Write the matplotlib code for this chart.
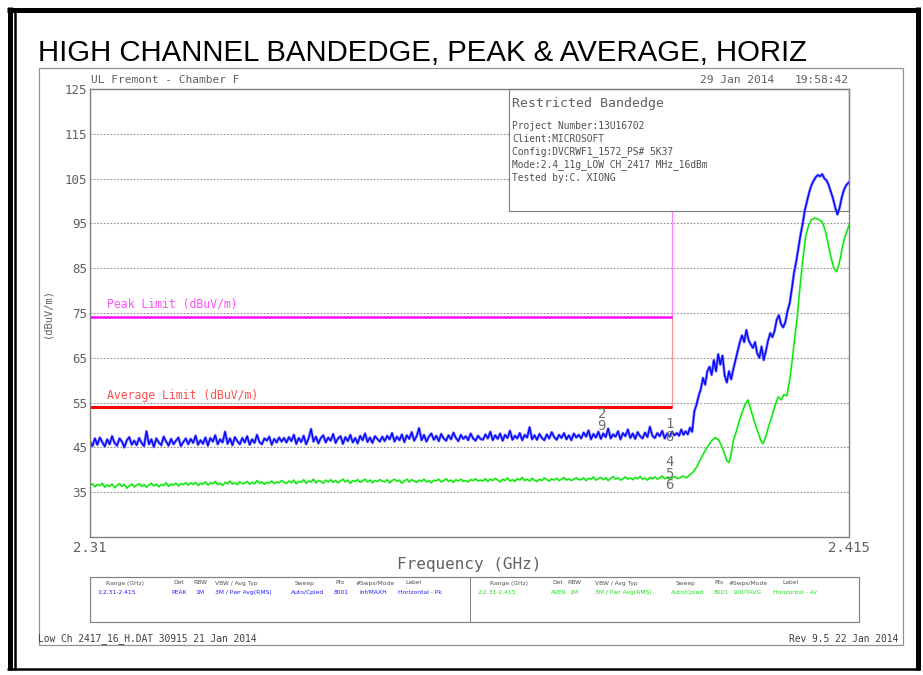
import numpy as np
import matplotlib
matplotlib.use("Agg")
import matplotlib.pyplot as plt
from matplotlib.lines import Line2D
from matplotlib.patches import Rectangle

# ---------------- data ----------------
f_start, f_stop = 2.31, 2.415
band_edge = 2.3905
peak_limit = 74
avg_limit = 54
yticks = [125, 115, 105, 95, 85, 75, 65, 55, 45, 35]

# peak trace (blue) flat part, evenly spaced from 2.31 to 2.3912 GHz
blue_flat = [
    46.3, 45.3, 47.0, 45.6, 47.2, 46.2, 45.2, 46.8, 45.7, 47.5, 46.0, 45.4, 47.0, 46.3, 45.0, 46.6, 47.3, 45.6, 46.5, 45.5,
    47.1, 46.0, 45.3, 48.6, 45.7, 46.8, 45.1, 47.0, 46.1, 45.5, 47.4, 46.3, 45.4, 46.9, 45.7, 46.5, 47.2, 45.3, 46.2, 47.0,
    45.7, 46.9, 46.0, 47.6, 45.6, 46.6, 45.8, 47.2, 45.4, 47.1, 46.3, 47.7, 45.7, 46.8, 46.1, 48.5, 45.8, 47.0, 45.5, 47.3,
    46.4, 45.7, 47.1, 46.1, 47.5, 45.6, 46.8, 46.0, 47.8, 46.2, 45.7, 47.0, 46.5, 47.4, 45.6, 46.9, 46.1, 47.2, 46.3, 47.1,
    46.1, 47.3, 46.4, 47.8, 45.8, 47.1, 46.2, 47.6, 45.7, 47.0, 49.1, 46.3, 47.4, 45.9, 47.1, 47.7, 46.1, 47.2, 46.5, 48.0,
    46.0, 47.0, 47.5, 45.8, 47.3, 46.4, 47.8, 46.1, 47.1, 45.9, 47.6, 46.6, 48.1, 46.2, 47.2, 46.0, 47.5, 46.9, 46.3, 47.4,
    46.4, 47.6, 46.8, 48.2, 46.3, 47.4, 46.6, 47.9, 46.2, 47.7, 46.9, 48.4, 46.5, 47.5, 49.3, 46.6, 47.8, 46.3, 47.4, 48.1,
    46.7, 47.6, 46.4, 48.0, 47.0, 46.5, 47.7, 46.8, 48.3, 47.1, 46.4, 47.8, 46.9, 47.5, 46.6, 48.1, 47.0, 46.5, 47.6, 46.9,
    46.7, 47.9, 47.0, 48.5, 46.6, 47.7, 46.9, 48.1, 46.5, 47.8, 47.1, 48.7, 46.7, 47.6, 47.0, 48.2, 46.6, 47.8, 47.2, 49.5,
    46.8, 47.7, 46.7, 48.0, 47.1, 46.6, 47.9, 47.0, 48.4, 47.3, 46.7, 47.8, 47.1, 48.2, 46.8, 47.7, 46.6, 48.1, 47.2, 47.8,
    47.0, 48.3, 47.4, 48.8, 46.8, 48.0, 47.2, 48.5, 46.9, 48.1, 47.3, 49.2, 47.0, 47.9, 47.4, 48.6, 46.8, 48.2, 47.5, 49.0,
    47.1, 48.1, 46.9, 48.4, 47.5, 47.0, 48.3, 47.3, 49.6, 47.6, 47.1, 48.2, 47.5, 48.7, 47.0, 48.1, 47.4, 48.5, 47.7, 48.2,
]
blue_rise_f = [
    2.3915, 2.3918, 2.3921, 2.3924, 2.3927, 2.3930, 2.3933, 2.3936, 2.3939, 2.3942,
    2.3945, 2.3948, 2.3951, 2.3954, 2.3957, 2.3960, 2.3963, 2.3966, 2.3969, 2.3972,
    2.3975, 2.3978, 2.3981, 2.3984, 2.3987, 2.3990, 2.3993, 2.3996, 2.3999, 2.4002,
    2.4005, 2.4008, 2.4011, 2.4014, 2.4017, 2.4020, 2.4023, 2.4026, 2.4029, 2.4032,
    2.4035, 2.4038, 2.4041, 2.4044, 2.4047, 2.4050, 2.4053, 2.4056, 2.4059, 2.4062,
    2.4065, 2.4068, 2.4071, 2.4074, 2.4077, 2.4080, 2.4083, 2.4086, 2.4089, 2.4092,
    2.4095, 2.4098, 2.4101, 2.4104, 2.4107, 2.4110, 2.4113, 2.4116, 2.4119, 2.4122,
    2.4125, 2.4128, 2.4131, 2.4134, 2.4137, 2.4140, 2.4143, 2.4146, 2.4150,
]
blue_rise_v = [
    47.6, 49.0, 47.8, 48.6, 47.9, 49.4, 48.5, 53.0, 54.5, 56.5,
    58.0, 60.5, 59.0, 62.0, 63.0, 61.2, 64.5, 62.0, 65.8, 63.5,
    65.5, 61.0, 59.5, 62.0, 60.2, 62.5, 64.5, 66.5, 68.5, 70.0,
    68.5, 71.2, 69.0, 68.0, 67.2, 68.5, 66.0, 65.0, 67.5, 64.5,
    66.5, 68.8, 70.5, 69.6, 71.0, 73.5, 74.5, 72.5, 71.8, 73.0,
    75.5, 77.2, 80.5, 84.0, 86.5, 89.5, 92.5, 95.0, 98.0, 100.0,
    102.0, 103.5, 104.5, 105.3, 105.8, 105.5, 106.0, 105.0, 104.6, 103.5,
    102.0, 100.5, 98.5, 97.0, 98.5, 100.8, 102.5, 103.5, 104.2,
]

# average trace (green) flat part, evenly spaced from 2.31 to 2.3912 GHz
green_flat = [
    36.4, 36.9, 36.2, 36.7, 36.5, 37.0, 36.1, 36.6, 36.3, 36.8, 36.0, 36.5, 36.9, 36.3, 36.7, 35.9, 36.4, 36.8, 36.2, 36.6,
    36.9, 36.3, 36.7, 36.1, 36.6, 37.0, 36.4, 36.8, 36.2, 36.7, 36.5, 37.1, 36.3, 36.8, 36.6, 37.0, 36.4, 36.9, 36.7, 37.1,
    36.6, 37.1, 36.7, 37.2, 36.5, 37.0, 36.8, 37.3, 36.6, 37.1, 36.9, 37.4, 36.7, 37.0, 36.5, 37.2, 36.9, 37.5, 36.8, 37.1,
    36.7, 37.3, 36.9, 37.0, 37.4, 36.8, 37.2, 36.9, 37.6, 37.0, 37.3, 36.8, 37.2, 37.0, 37.5, 36.9, 37.3, 37.1, 37.6, 37.2,
    37.0, 37.5, 37.1, 37.7, 36.9, 37.4, 37.2, 37.8, 37.0, 37.5, 37.3, 37.9, 37.1, 37.6, 37.4, 37.0, 37.7, 37.3, 37.8, 37.2,
    37.6, 37.1, 37.5, 37.9, 37.3, 37.7, 37.0, 37.6, 37.4, 37.8, 37.2, 37.5, 37.9, 37.3, 37.7, 37.1, 37.6, 37.4, 37.8, 37.5,
    37.3, 37.8, 37.1, 37.6, 37.9, 37.4, 37.7, 37.0, 37.5, 37.9, 37.3, 37.8, 37.5, 37.2, 37.7, 37.4, 37.9, 37.3, 37.6, 37.1,
    37.7, 37.5, 37.9, 37.3, 37.6, 38.0, 37.4, 37.7, 37.2, 37.8, 37.5, 37.9, 37.4, 37.6, 37.3, 37.8, 37.6, 38.0, 37.5, 37.7,
    37.5, 38.0, 37.4, 37.9, 37.6, 38.1, 37.7, 37.3, 37.9, 37.6, 38.2, 37.5, 37.8, 37.4, 38.0, 37.7, 38.3, 37.6, 37.9, 37.5,
    38.1, 37.7, 37.4, 37.9, 37.6, 38.2, 37.8, 37.5, 38.0, 37.7, 38.1, 37.6, 37.9, 38.3, 37.7, 38.0, 37.6, 37.9, 38.2, 37.8,
    37.8, 38.2, 37.6, 38.1, 37.9, 38.4, 37.7, 38.0, 38.3, 37.8, 38.2, 37.6, 38.1, 38.5, 37.9, 38.2, 37.7, 38.0, 38.4, 37.9,
    38.2, 37.8, 38.3, 38.0, 38.5, 37.9, 38.1, 37.7, 38.3, 38.0, 38.4, 37.9, 38.2, 38.6, 38.0, 38.3, 37.8, 38.2, 38.5, 38.1,
]
green_rise_f = [
    2.3915, 2.3920, 2.3925, 2.3930, 2.3935, 2.3940, 2.3945, 2.3950, 2.3955, 2.3960,
    2.3965, 2.3970, 2.3974, 2.3978, 2.3981, 2.3984, 2.3987, 2.3990, 2.3994, 2.3998,
    2.4002, 2.4006, 2.4010, 2.4013, 2.4017, 2.4021, 2.4025, 2.4028, 2.4031, 2.4035,
    2.4039, 2.4043, 2.4047, 2.4052, 2.4056, 2.4060, 2.4064, 2.4068, 2.4072, 2.4075,
    2.4079, 2.4082, 2.4086, 2.4090, 2.4094, 2.4098, 2.4103, 2.4108, 2.4113, 2.4117,
    2.4121, 2.4125, 2.4129, 2.4133, 2.4137, 2.4142, 2.4146, 2.4150,
]
green_rise_v = [
    38.1, 38.6, 38.2, 38.9, 39.6, 40.8, 42.5, 44.0, 45.3, 46.5,
    47.2, 46.6, 45.2, 43.5, 42.0, 41.6, 43.5, 46.5, 48.5, 50.8,
    52.7, 54.5, 55.6, 54.0, 51.8, 49.8, 48.0, 46.5, 45.8, 47.5,
    49.8, 51.8, 54.0, 56.3, 55.6, 56.8, 56.5, 60.0, 65.2, 69.5,
    75.0, 80.5, 86.8, 92.0, 94.5, 95.8, 96.2, 95.9, 95.3, 93.5,
    90.6, 87.5, 85.0, 84.2, 86.5, 90.6, 92.8, 94.6,
]

marker_labels = ["2", "9", "1", "8", "4", "5", "6"]
marker_f = [2.3808, 2.3808, 2.3902, 2.3902, 2.3902, 2.3902, 2.3902]
marker_v = [52.5, 49.8, 50.2, 47.4, 41.8, 39.1, 36.5]

info_title = "Restricted Bandedge"
info_lines = ["Project Number:13U16702", "Client:MICROSOFT",
              "Config:DVCRWF1_1572_PS# 5K37", "Mode:2.4_11g_LOW CH_2417 MHz_16dBm",
              "Tested by:C. XIONG"]

table_headers = ["Range (GHz)", "Det", "RBW", "VBW / Avg Typ", "Sweep", "Pts", "#Swps/Mode", "Label"]
table_row1 = ["1:2.31-2.415", "PEAK", "1M", "3M / Pwr Avg(RMS)", "Auto/Cpled", "8001", "Inf/MAXH", "Horizontal - Pk"]
table_row2 = ["2:2.31-2.415", "AVER", "1M", "3M / Pwr Avg(RMS)", "Auto/Cpled", "8001", "100/TAVG", "Horizontal - Av"]

# ---------------- figure ----------------
W, H = 923, 675
fig = plt.figure(figsize=(W / 100, H / 100), dpi=100)
fig.patch.set_facecolor("white")

def fx(x):
    return x / W

def fy(y):
    return 1 - y / H

def pt(px):
    return px * 72 / 100

MONO = "DejaVu Sans Mono"
GREY = "#606060"

def fline(x0, y0, x1, y1, lw_px, color="black"):
    fig.add_artist(Line2D([fx(x0), fx(x1)], [fy(y0), fy(y1)], lw=pt(lw_px), color=color,
                          solid_capstyle="butt"))

fline(7, 9.5, 920, 9.5, 5)
fline(9.5, 7, 9.5, 670, 5)
fline(15.5, 12, 15.5, 670, 2.5)
fline(917.5, 7, 917.5, 670, 5)
fline(7, 668.5, 920, 668.5, 2.5)

fig.add_artist(Rectangle((fx(39), fy(645)), fx(903) - fx(39), fy(68) - fy(645),
                         fill=False, ec="#909090", lw=pt(1.2)))

fig.text(fx(38), fy(61), "HIGH CHANNEL BANDEDGE, PEAK & AVERAGE, HORIZ",
         family="Liberation Sans", fontsize=21.2, color="black", va="baseline", ha="left")

# axes
ax = fig.add_axes([fx(90), fy(537), fx(849) - fx(90), fy(89) - fy(537)])
ax.set_xlim(f_start, f_stop)
ax.set_ylim(25, 125)
for s in ax.spines.values():
    s.set_color("#808080")
    s.set_linewidth(1.0)
    s.set_zorder(12)

for yv in yticks[1:]:
    ax.axhline(yv, color="#909090", lw=0.8, ls=(0, (1.5, 1.5)), zorder=1)

ax.set_yticks(yticks)
ax.set_yticklabels([str(v) for v in yticks], family=MONO, fontsize=9, color=GREY)
ax.set_xticks([f_start, f_stop])
ax.set_xticklabels(["2.31", "2.415"], family=MONO, fontsize=10, color=GREY)
ax.tick_params(length=0, pad=3)
ax.tick_params(axis="y", pad=2)
ax.set_xlabel("Frequency (GHz)", family=MONO, fontsize=11.5, color=GREY, labelpad=1)
ax.set_ylabel("(dBuV/m)", family=MONO, fontsize=7.5, color=GREY, labelpad=9)

# info box (beneath the traces, above the grid)
ax.add_patch(Rectangle((fx(509), fy(211)), fx(849) - fx(509), fy(89) - fy(211),
                       transform=fig.transFigure, fc="white", ec="#808080", lw=pt(1.2),
                       zorder=2, clip_on=False))
ax.text(fx(512), fy(103), info_title, transform=fig.transFigure, family=MONO, fontsize=9.5,
        color=GREY, va="center", zorder=2.5)
for i, line in enumerate(info_lines):
    ax.text(fx(512), fy(126 + 13 * i), line, transform=fig.transFigure, family=MONO,
            fontsize=6.9, color="#505050", va="center", zorder=2.5)

# limit lines
ax.plot([band_edge, band_edge], [peak_limit, 125], color="#ff80ff", lw=pt(1.3), zorder=1.5)
ax.plot([band_edge, band_edge], [avg_limit, peak_limit], color="#ff9090", lw=pt(1.3), zorder=1.5)
ax.plot([f_start, band_edge], [peak_limit, peak_limit], color="#ff00ff", lw=pt(2.5), zorder=5,
        solid_capstyle="butt")
ax.plot([f_start, band_edge], [avg_limit, avg_limit], color="#ff0000", lw=pt(3), zorder=5,
        solid_capstyle="butt")

# traces
bf = np.concatenate([np.linspace(f_start, 2.3912, len(blue_flat)), blue_rise_f])
bv = np.concatenate([blue_flat, blue_rise_v])
ax.plot(bf, bv, color="#7a7aff", lw=2.0, zorder=3)
ax.plot(bf, bv, color="#0000ff", lw=0.9, zorder=4)

gf = np.concatenate([np.linspace(f_start, 2.3912, len(green_flat)), green_rise_f])
gv = np.concatenate([green_flat, green_rise_v])
ax.plot(gf, gv, color="#90ff90", lw=1.6, zorder=3)
ax.plot(gf, gv, color="#00e000", lw=0.8, zorder=4)

ax.text(2.3123, peak_limit + 3, "Peak Limit (dBuV/m)", family=MONO, fontsize=8.3,
        color="#ff50ff", va="center", ha="left", zorder=6)
ax.text(2.3123, avg_limit + 2.6, "Average Limit (dBuV/m)", family=MONO, fontsize=8.3,
        color="#ff5050", va="center", ha="left", zorder=6)

for lab, mf, mv in zip(marker_labels, marker_f, marker_v):
    ax.text(mf, mv, lab, family=MONO, fontsize=10, color="#707070", ha="center", va="center", zorder=6)

fig.text(fx(91), fy(80), "UL Fremont - Chamber F", family=MONO, fontsize=8.1, color=GREY, va="center")
fig.text(fx(700), fy(80), "29 Jan 2014", family=MONO, fontsize=8.1, color=GREY, va="center")
fig.text(fx(849), fy(80), "19:58:42", family=MONO, fontsize=8.1, color=GREY, va="center", ha="right")

# bottom table
fig.add_artist(Rectangle((fx(90), fy(622)), fx(859) - fx(90), fy(577) - fy(622),
                         fill=False, ec="#808080", lw=pt(1.2)))
fig.add_artist(Line2D([fx(470), fx(470)], [fy(577), fy(622)], color="#808080", lw=pt(1)))

TF = "DejaVu Sans"
TS = 4.3
hx1 = [106, 173, 193, 215, 295, 335, 356, 405]
vx1 = [97, 171, 195, 215, 291, 334, 359, 398]
hx2 = [490, 552, 567, 595, 676, 714, 729, 782]
vx2 = [477, 551, 569, 595, 671, 714, 732, 773]
for hx, txt in zip(hx1 + hx2, table_headers + table_headers):
    fig.text(fx(hx), fy(583), txt, family=TF, fontsize=TS, color="#505050", va="center")
for vx, txt in zip(vx1, table_row1):
    fig.text(fx(vx), fy(592.5), txt, family=TF, fontsize=TS, color="#2020ff", va="center")
for vx, txt in zip(vx2, table_row2):
    fig.text(fx(vx), fy(592.5), txt, family=TF, fontsize=TS, color="#20e020", va="center")

fig.text(fx(38), fy(639), "Low Ch 2417_16_H.DAT 30915 21 Jan 2014", family=MONO, fontsize=6.9,
         color="#404040", va="center")
fig.text(fx(898), fy(639), "Rev 9.5 22 Jan 2014", family=MONO, fontsize=6.9,
         color="#404040", va="center", ha="right")

fig.savefig("out.png", dpi=100)
